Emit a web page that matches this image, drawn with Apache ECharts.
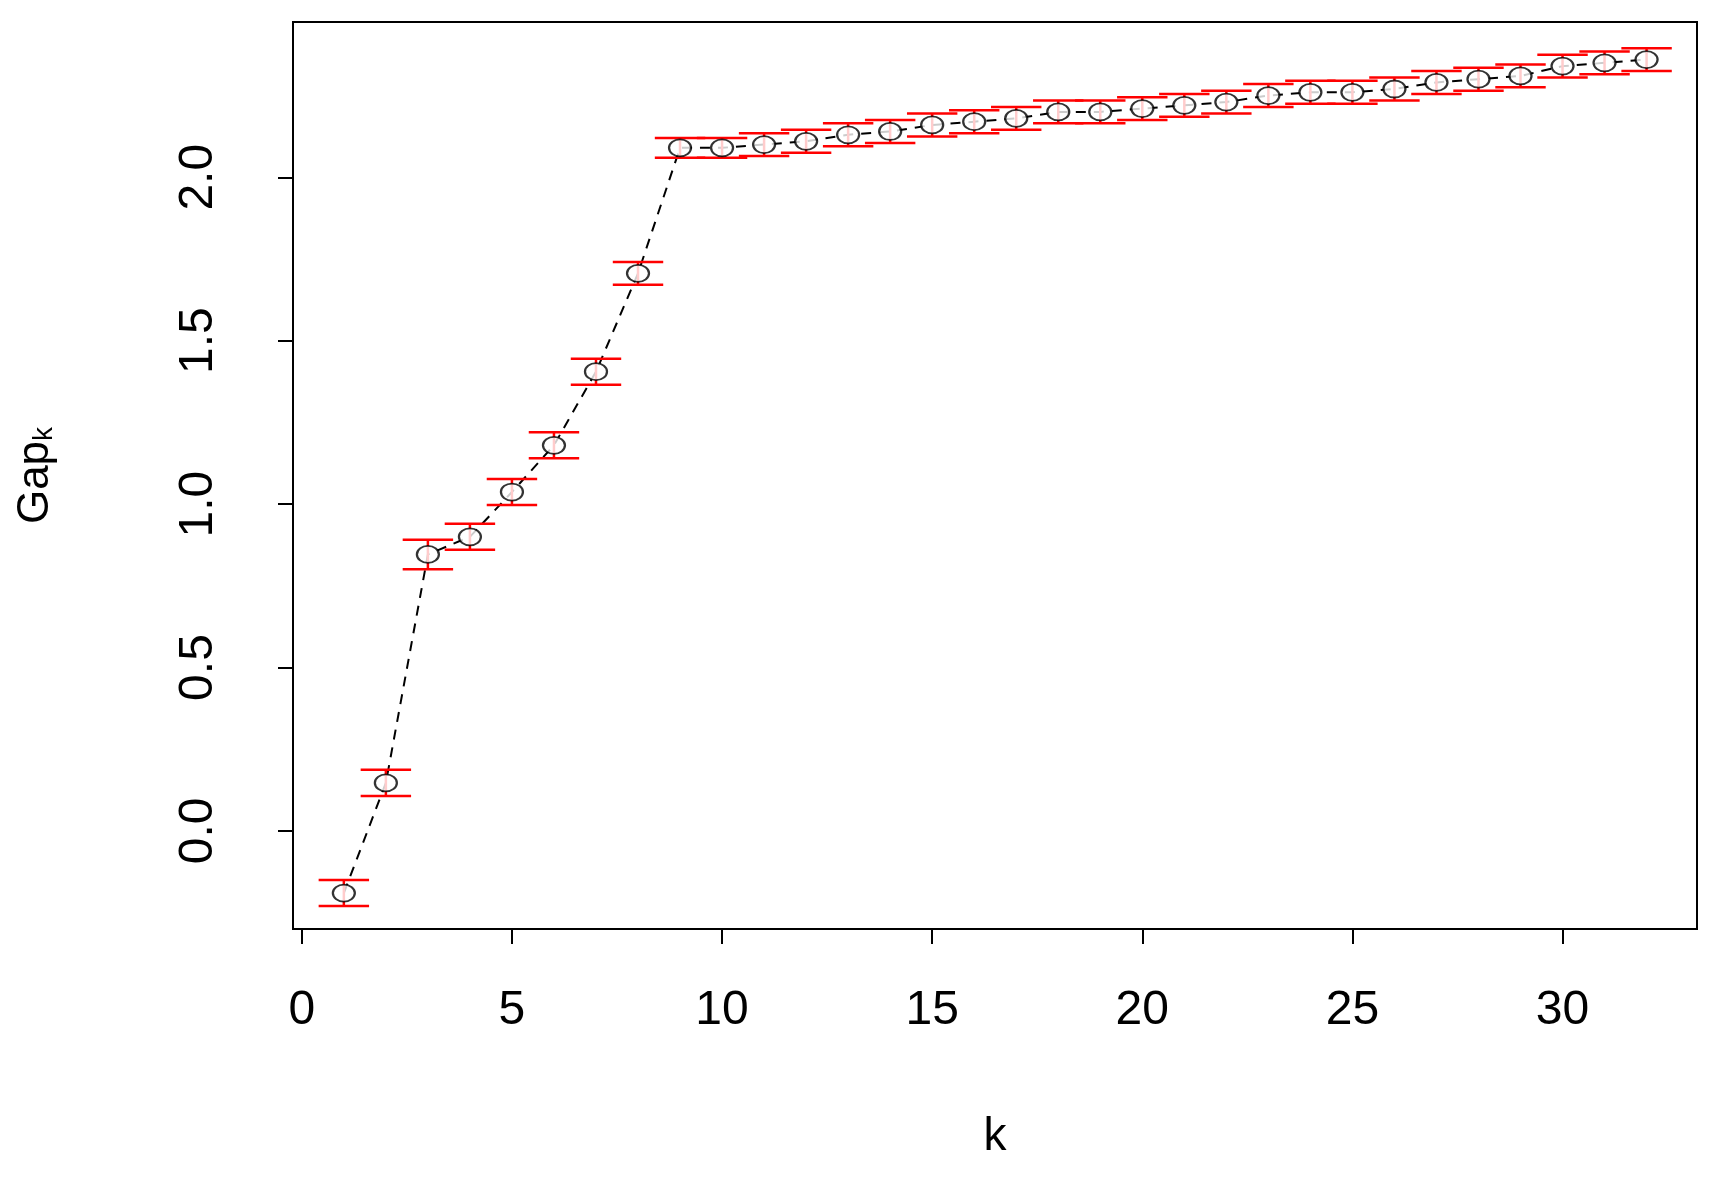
<!DOCTYPE html>
<html>
<head>
<meta charset="utf-8">
<script src="https://cdn.jsdelivr.net/npm/echarts@6/dist/echarts.min.js"></script>
<style>html,body{margin:0;background:#fff}#main{width:1714px;height:1181px}</style>
</head>
<body>
<div id="main"></div>
<script>
// gap statistic values
var k = [1,2,3,4,5,6,7,8,9,10,11,12,13,14,15,16,17,18,19,20,21,22,23,24,25,26,27,28,29,30,31,32];
var gap = [-0.19,0.147,0.846,0.90,1.037,1.18,1.405,1.706,2.09,2.09,2.10,2.11,2.13,2.14,2.16,2.17,2.18,2.20,2.20,2.21,2.22,2.23,2.25,2.26,2.26,2.27,2.29,2.30,2.31,2.34,2.35,2.36];
var se = [0.04,0.04,0.045,0.04,0.04,0.04,0.04,0.035,0.03,0.03,0.035,0.035,0.035,0.035,0.035,0.035,0.035,0.035,0.035,0.035,0.035,0.035,0.035,0.035,0.035,0.035,0.035,0.035,0.035,0.035,0.035,0.035];
var xTicks = [0, 5, 10, 15, 20, 25, 30];
var yTicks = [0, 0.5, 1, 1.5, 2];

var pts = [], bars = [];
for (var i = 0; i < k.length; i++) {
    pts.push([k[i], gap[i]]);
    bars.push([k[i], gap[i] - se[i], gap[i] + se[i]]);
}

var font = 'Liberation Sans, Arial, sans-serif';
var chart = echarts.init(document.getElementById('main'));
chart.setOption({
    animation: false,
    grid: { left: 293, right: 17, top: 22, bottom: 252, show: true, borderColor: '#000', borderWidth: 2, backgroundColor: 'transparent' },
    xAxis: {
        type: 'value', min: -0.21, max: 33.2, interval: 5,
        name: 'k', nameLocation: 'middle', nameGap: 185,
        nameTextStyle: { fontFamily: font, fontSize: 46, color: '#000' },
        axisLine: { show: false, onZero: false },
        axisTick: { show: true, length: 15, lineStyle: { color: '#000', width: 2 }, customValues: xTicks },
        axisLabel: { fontFamily: font, fontSize: 48, color: '#000', margin: 58, customValues: xTicks },
        splitLine: { show: false }
    },
    yAxis: {
        type: 'value', min: -0.3, max: 2.475,
        name: '{a|Gap}{b|k}', nameLocation: 'middle', nameGap: 235, nameRotate: 90,
        nameTextStyle: { rich: {
            a: { fontFamily: font, fontSize: 44, color: '#000' },
            b: { fontFamily: font, fontSize: 28, color: '#000', verticalAlign: 'bottom', padding: [16, 0, 0, 0] }
        } },
        axisLine: { show: false, onZero: false },
        axisTick: { show: true, length: 15, lineStyle: { color: '#000', width: 2 }, customValues: yTicks },
        axisLabel: { fontFamily: font, fontSize: 48, color: '#000', rotate: 90, margin: 70, customValues: yTicks,
            formatter: function (v) { return v.toFixed(1); } },
        splitLine: { show: false }
    },
    series: [
        {
            type: 'line', data: pts, symbol: 'none',
            lineStyle: { color: '#000', width: 2, type: [10, 8] }, z: 1
        },
        {
            type: 'custom', data: bars, z: 3,
            renderItem: function (params, api) {
                var lo = api.coord([api.value(0), api.value(1)]);
                var hi = api.coord([api.value(0), api.value(2)]);
                var w = api.size([1, 0])[0] * 0.6;
                var st = { stroke: '#ff0000', lineWidth: 2.5 };
                return { type: 'group', children: [
                    { type: 'line', shape: { x1: lo[0], y1: lo[1], x2: hi[0], y2: hi[1] }, style: st },
                    { type: 'line', shape: { x1: lo[0] - w, y1: lo[1], x2: lo[0] + w, y2: lo[1] }, style: st },
                    { type: 'line', shape: { x1: hi[0] - w, y1: hi[1], x2: hi[0] + w, y2: hi[1] }, style: st }
                ] };
            }
        },
        {
            type: 'scatter', data: pts, symbol: 'circle', symbolSize: [22, 17], z: 4,
            itemStyle: { color: '#fff', borderColor: '#000', borderWidth: 2 }
        }
    ]
});
</script>
</body>
</html>
